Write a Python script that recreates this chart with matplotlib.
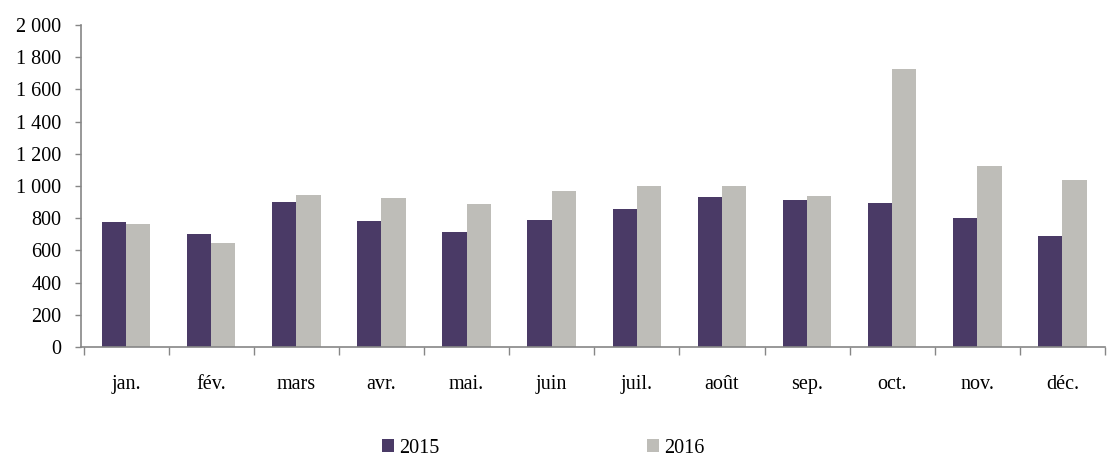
import matplotlib.pyplot as plt
import numpy as np
from matplotlib.ticker import FuncFormatter, FixedLocator

months = ["jan.", "fév.", "mars", "avr.", "mai.", "juin", "juil.", "août", "sep.", "oct.", "nov.", "déc."]
values_2015 = [778, 704, 902, 782, 712, 788, 858, 933, 916, 896, 800, 689]
values_2016 = [762, 648, 945, 927, 891, 966, 1003, 997, 937, 1725, 1125, 1040]

color_2015 = "#4a3a66"
color_2016 = "#bebdb8"
axis_gray = "#868686"

plt.rcParams["font.family"] = ["Liberation Serif", "DejaVu Serif"]

fig = plt.figure(figsize=(11.08, 4.62), dpi=100)
ax = fig.add_axes([81 / 1108, 1 - 347 / 462, (1105 - 81) / 1108, (347 - 25) / 462])

x = np.arange(len(months))
w = 0.285
ax.bar(x - w / 2, values_2015, width=w, color=color_2015, label="2015")
ax.bar(x + w / 2, values_2016, width=w, color=color_2016, label="2016")

ax.set_xlim(-0.53, len(months) - 0.5)
ax.set_ylim(0, 2000)
ax.set_yticks(np.arange(0, 2001, 200))
ax.yaxis.set_major_formatter(FuncFormatter(lambda v, p: f"{v:,.0f}".replace(",", " ")))

ax.set_xticks(x)
ax.set_xticklabels(months)
ax.xaxis.set_minor_locator(FixedLocator(np.arange(-0.5, len(months), 1.0)))
ax.tick_params(axis="x", which="major", length=0, pad=20, labelsize=14.5)
ax.tick_params(axis="x", which="minor", length=6, width=1, color=axis_gray, direction="out")
ax.tick_params(axis="y", length=4, width=1, color=axis_gray, pad=10, labelsize=14.5)

for side in ["top", "right"]:
    ax.spines[side].set_visible(False)
for side in ["left", "bottom"]:
    ax.spines[side].set_color(axis_gray)
    ax.spines[side].set_linewidth(1.2)

fig.legend(loc="lower center", bbox_to_anchor=(0.49, -0.03), ncol=2, frameon=False,
           fontsize=14.5, handlelength=0.6, handleheight=0.6, handletextpad=0.25,
           columnspacing=10.3)

fig.savefig("out.png", dpi=100)
